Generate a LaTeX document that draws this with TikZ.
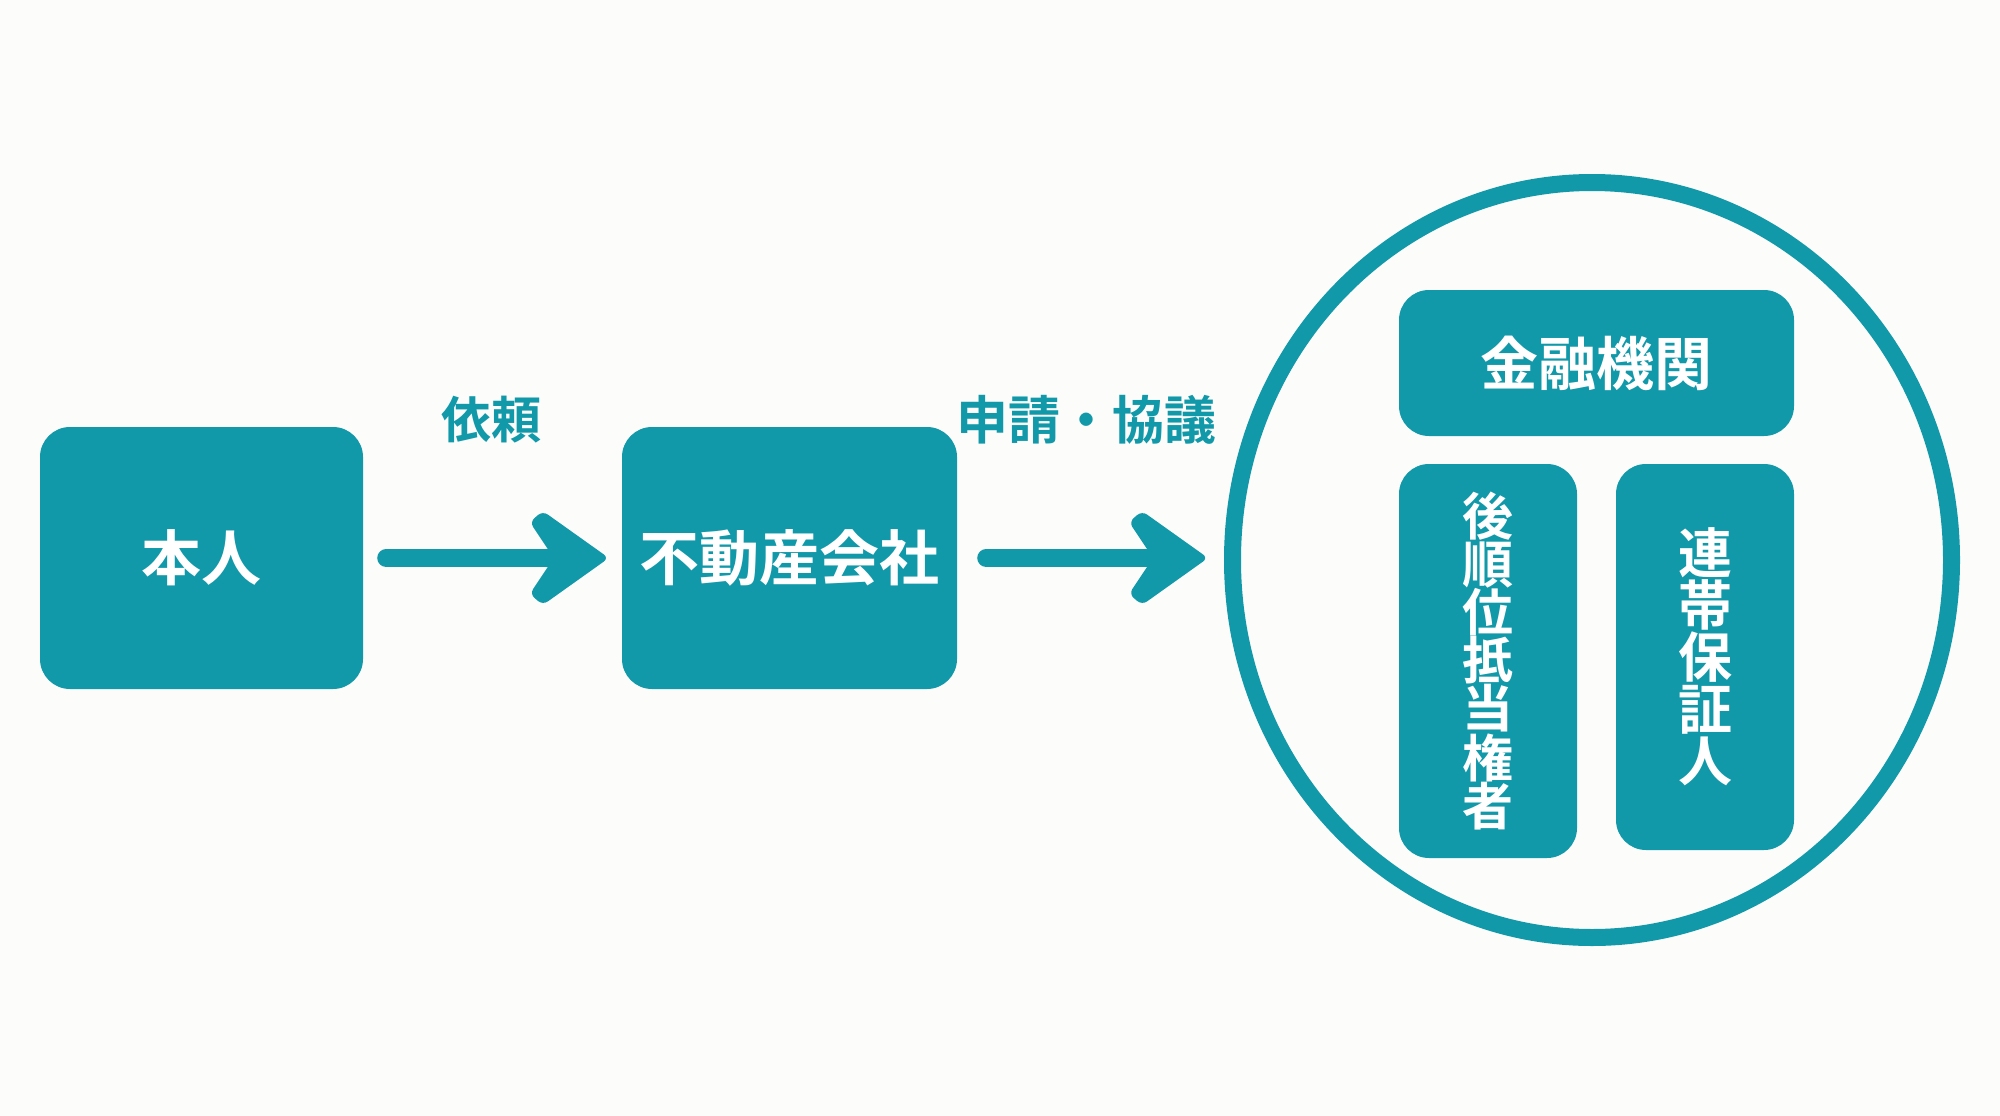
\documentclass[tikz,border=0pt]{standalone}
\usepackage{fontspec}
\usetikzlibrary{shapes.geometric,calc}
\newfontfamily\cjk{Noto Sans CJK JP}[BoldFont={Noto Sans CJK JP Bold}]
\definecolor{tealc}{RGB}{17,153,170}
\definecolor{bgc}{RGB}{252,252,250}
\begin{document}
\begin{tikzpicture}[x=1pt,y=-1pt,
  box/.style={rectangle, rounded corners=30pt, fill=tealc, draw=none, inner sep=0pt, text=white,
    font=\cjk\bfseries\fontsize{60}{66}\selectfont},
  vbox/.style={box, align=center},
  lbl/.style={text=tealc, inner sep=0pt, font=\cjk\bfseries\fontsize{50}{56}\selectfont},
  shaft/.style={draw=tealc, line width=18pt, line cap=round},
  ring/.style={ellipse, draw=tealc, line width=17pt, inner sep=0pt},
  arrowhd/.pic={\fill[tealc, rounded corners=6pt] (3,0) -- (-63,-47) -- (-76,-36) -- (-52,0) -- (-76,36) -- (-63,47) -- cycle;}]
\fill[bgc] (0,0) rectangle (2000,1116);
\useasboundingbox (0,0) rectangle (2000,1116);
% boxes
\node[box, minimum width=323pt, minimum height=262pt] (honnin) at (201.5,558) {本人};
\node[box, minimum width=335pt, minimum height=262pt] (fudosan) at (789.5,558) {不動産会社};
% circle group
\node[ring, minimum width=719pt, minimum height=755pt] (grp) at (1592,560) {};
\node[box, minimum width=395pt, minimum height=146pt, font=\cjk\bfseries\fontsize{58}{64}\selectfont] (kinyu) at (1596.5,363) {金融機関};
\node[vbox, minimum width=178pt, minimum height=394pt, font=\cjk\bfseries\fontsize{51}{48}\selectfont] (kojun) at (1488,661) {後\\順\\位\\抵\\当\\権\\者};
\node[vbox, minimum width=178pt, minimum height=386pt, font=\cjk\bfseries\fontsize{54}{52}\selectfont] (rentai) at (1705,657) {連\\帯\\保\\証\\人};
% labels
\node[lbl] (irai) at (491,420) {依頼};
\node[lbl, font=\cjk\bfseries\fontsize{52}{58}\selectfont] (shinsei) at (1086,420) {申請・協議};
% arrows
\coordinate (t1) at ([xshift=-16pt]fudosan.west);
\coordinate (t2) at ($(grp.west |- fudosan.east)+(-19,0)$);
\draw[shaft] ([xshift=23pt]honnin.east) -- ([xshift=-50pt]t1);
\pic at (t1) {arrowhd};
\draw[shaft] ([xshift=29pt]fudosan.east) -- ([xshift=-50pt]t2);
\pic at (t2) {arrowhd};
\end{tikzpicture}
\end{document}
